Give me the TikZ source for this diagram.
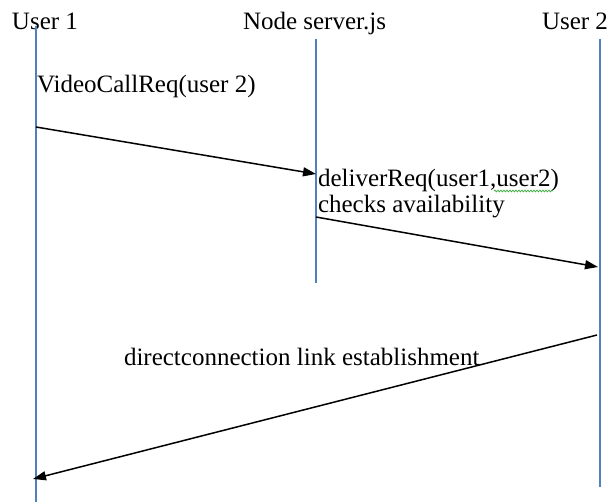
\documentclass[tikz,border=0pt]{standalone}
\usepackage{fontspec}
\setmainfont{Liberation Serif}
\usetikzlibrary{arrows.meta,decorations.pathmorphing}
\definecolor{lifeblue}{RGB}{79,129,189}
\definecolor{spellgreen}{RGB}{60,170,60}
\tikzset{
  lifeline/.style={draw=lifeblue, line width=1.2pt},
  msg/.style={draw=black, line width=1.5pt, -{Triangle[length=13pt,width=9pt]}},
  lbl/.style={anchor=base west, inner sep=0pt, outer sep=0pt, font=\fontsize{25}{27}\selectfont},
}
\begin{document}
\begin{tikzpicture}[x=1pt,y=-1pt]
\useasboundingbox (0,0) rectangle (609,502);
\fill[white] (0,0) rectangle (609,502);
% headers
\node[lbl] (h1) at (12,30) {User 1};
\node[lbl] (h2) at (243,30) {Node server.js};
\node[lbl] (h3) at (542,30) {User 2};
% lifelines
\coordinate (u1t) at (36,26);
\coordinate (u1b) at (36,502);
\coordinate (svt) at (316,39);
\coordinate (svb) at (316,283);
\coordinate (u2t) at (600,39);
\coordinate (u2b) at (600,487);
\draw[lifeline] (u1t) -- (u1b);
\draw[lifeline] (svt) -- (svb);
\draw[lifeline] (u2t) -- (u2b);
% messages
\node[lbl] (m1) at (37,93) {VideoCallReq(user 2)};
\coordinate (a1s) at (36,127);
\coordinate (a1e) at (316,174);
\draw[msg] (a1s) -- (a1e);
\node[lbl] (m2) at (318,187) {deliverReq(user1,user2)};
\node[lbl] (m3) at (318,213) {checks availability};
\coordinate (w1) at (494,191);
\coordinate (w2) at (553,191);
\draw[spellgreen, line width=0.7pt, decorate, decoration={snake, amplitude=0.9pt, segment length=3pt}] (w1) -- (w2);
\coordinate (a2s) at (316,217);
\coordinate (a2e) at (598,267);
\draw[msg] (a2s) -- (a2e);
\node[lbl] (m4) at (124,365) {directconnection link establishment};
\coordinate (a3s) at (597,335);
\coordinate (a3e) at (33,479);
\draw[msg] (a3s) -- (a3e);
\end{tikzpicture}
\end{document}
